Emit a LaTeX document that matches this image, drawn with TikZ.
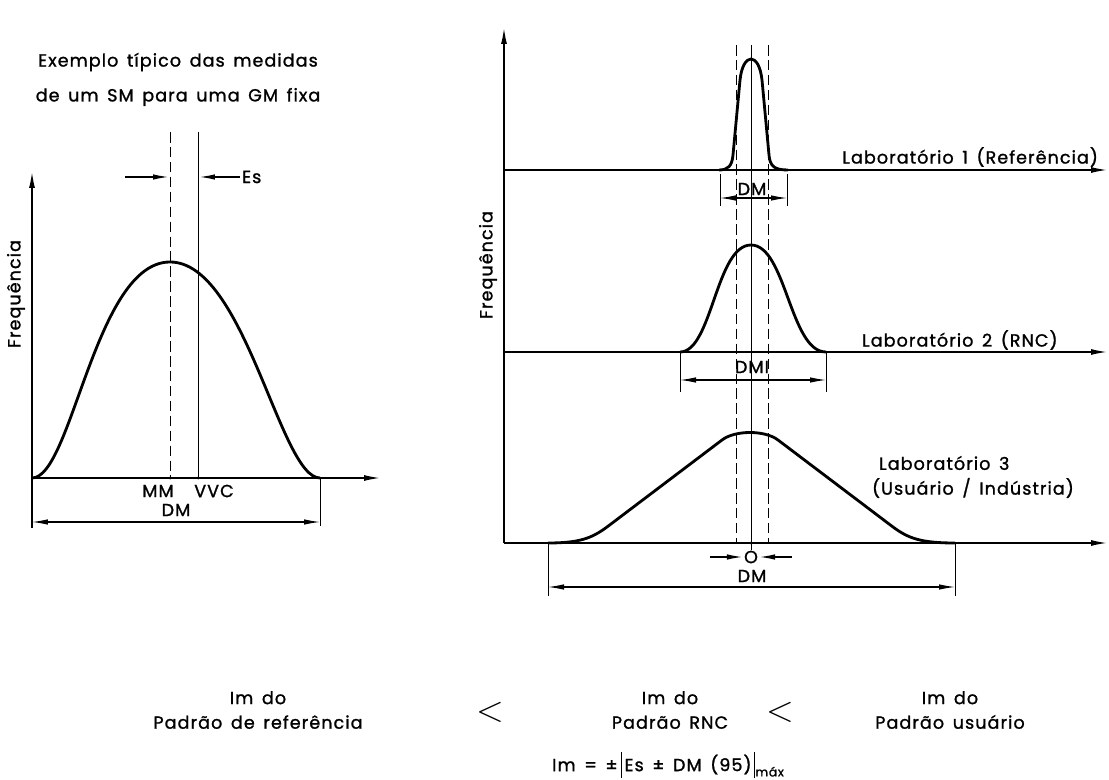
\documentclass[tikz,border=0pt]{standalone}
\usepackage{fontspec}
\setmainfont[LetterSpace=6,FakeBold=1.2,WordSpace=1.5]{Poppins}
\usetikzlibrary{arrows.meta}
\newcommand{\absbar}{\rule[-4pt]{0.6pt}{15pt}}
\tikzset{
  curve/.style={line width=1.6pt},
  axisline/.style={line width=0.8pt,-{Latex[length=3.2mm,width=1.2mm]}},
  guide/.style={line width=0.5pt},
  dimline/.style={line width=0.6pt,{Latex[length=3.2mm,width=1.1mm]}-{Latex[length=3.2mm,width=1.1mm]}},
  pointer/.style={line width=0.6pt,-{Latex[length=3mm,width=1.1mm]}},
  centre/.style={line width=0.45pt,dash pattern=on 6pt off 2.5pt},
  lbl/.style={font=\fontsize{10}{12}\selectfont,inner sep=1pt},
}
\begin{document}
\begin{tikzpicture}[x=0.02cm,y=-0.02cm]
\useasboundingbox (0,0) rectangle (1109,780);

% left: one SM
\node[lbl] (title1) at (178,62) {Exemplo típico das medidas};
\node[lbl] (title2) at (178,97) {de um SM para uma GM fixa};
\draw[axisline] (32,528) -- (32,172);
\draw[axisline] (32,478) -- (380,478);
\node[lbl,rotate=90] (freqL) at (16,294) {Frequência};

\draw[curve] (32,478) .. controls (72,478) and (95,262) .. (170,262)
  .. controls (245,262) and (280,478) .. (320,478);
\draw[centre] (170,132) -- (170,478);
\draw[guide] (198,132) -- (198,478);
\fill (170,478) circle (1.5) (198,478) circle (1.5);

\coordinate (mmL) at (125,177);
\coordinate (vvcR) at (240,177);
\draw[pointer] (mmL) -- (168,177);
\draw[pointer] (vvcR) -- (200,177);
\node[lbl,anchor=west] (es) at (vvcR) {Es};

\node[lbl] (mm) at (158,491) {MM};
\node[lbl] (vvc) at (214,491) {VVC};
\node[lbl] (dmL) at (176,510) {DM};
\draw[guide] (320,478) -- (320,526);
\draw[dimline] (32,522) -- (320,522);

% right: three laboratories
\draw[axisline] (504,543) -- (504,28);
\draw[axisline] (504,170) -- (1107,170);
\draw[axisline] (504,352) -- (1107,352);
\draw[axisline] (504,543) -- (1107,543);
\node[lbl,rotate=90] (freqR) at (488,265) {Frequência};

\draw[centre] (736,45) -- (736,543);
\draw[centre] (768,45) -- (768,543);
\draw[guide] (751,45) -- (751,550);
\fill (751,543) circle (1.5);

% lab 1
\draw[curve] (719,170) .. controls (728,170) and (732,166) .. (733,155)
  -- (740,80) .. controls (743,52) and (759,52) .. (762,80)
  -- (769,155) .. controls (770,166) and (774,170) .. (788,170);
\node[lbl,anchor=east] (lab1) at (1100,157) {Laboratório 1 (Referência)};
\node[lbl] (dm1) at (752,189) {DM};
\draw[guide] (720,174) -- (720,206) (787,174) -- (787,206);
\draw[dimline] (720,198) -- (787,198);

% lab 2
\draw[curve] (680,352) .. controls (712,352) and (716,245) .. (751,245)
  .. controls (786,245) and (790,352) .. (826,352);
\node[lbl,anchor=west] (lab2) at (860,340) {Laboratório 2 (RNC)};
\node[lbl] (dm2) at (752,367) {DMI};
\draw[guide] (680,352) -- (680,392) (826,352) -- (826,392);
\draw[dimline] (680,380) -- (826,380);

% lab 3
\draw[curve] (548,543) .. controls (580,543) and (592,538) .. (607,527)
  -- (722,440) .. controls (735,430) and (765,430) .. (778,440)
  -- (893,527) .. controls (908,538) and (920,543) .. (955,543);
\node[lbl,anchor=west] (lab3) at (877,463) {Laboratório 3};
\node[lbl,anchor=west] (lab3b) at (870,488) {(Usuário / Indústria)};
\node[lbl] (zero) at (751,557) {O};
\coordinate (zeroL) at (710,557);
\coordinate (zeroR) at (792,557);
\draw[pointer] (zeroL) -- (zero);
\draw[pointer] (zeroR) -- (zero);
\node[lbl] (dm3) at (752,576) {DM};
\draw[guide] (548,543) -- (548,596) (955,543) -- (955,596);
\draw[dimline] (548,587) -- (955,587);

% bottom comparison
\node[lbl,align=center] (imref) at (258,710) {Im do\\[2pt]Padrão de referência};
\node[font=\huge] (lt1) at (490,712) {$<$};
\node[lbl,align=center] (imrnc) at (670,710) {Im do\\[2pt]Padrão RNC};
\node[font=\huge] (lt2) at (780,712) {$<$};
\node[lbl,align=center] (imusr) at (950,710) {Im do\\[2pt]Padrão usuário};
\node[lbl] (formula) at (668,765) {Im = ±\,\absbar\,Es ± DM (95)\,\absbar\raisebox{-3pt}{\fontsize{7}{8}\selectfont máx}};
\end{tikzpicture}
\end{document}
